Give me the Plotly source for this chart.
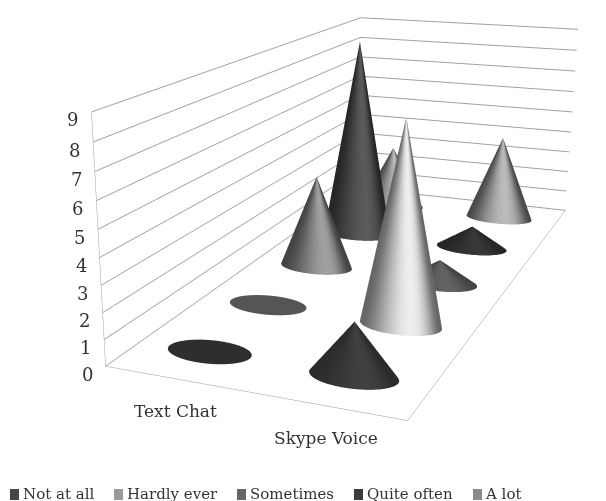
import numpy as np
import plotly.graph_objects as go

CATEGORIES = ["Text Chat", "Skype Voice"]
SERIES = ["Not at all", "Hardly ever", "Sometimes", "Quite often", "A lot"]
NOT_AT_ALL = [0, 2]
HARDLY_EVER = [0, 8]
SOMETIMES = [4, 1]
QUITE_OFTEN = [9, 1]
A_LOT = [3, 4]
VALUES = [NOT_AT_ALL, HARDLY_EVER, SOMETIMES, QUITE_OFTEN, A_LOT]
Z_TICKS = list(range(10))
LEGEND_COLORS = ["#454545", "#9a9a9a", "#666666", "#3c3c3c", "#8a8a8a"]
EDGE = ["#2b2b2b", "#666666", "#444444", "#262626", "#4a4a4a"]
HIGH = ["#4a4a4a", "#eeeeee", "#a0a0a0", "#5a5a5a", "#bbbbbb"]
FLAT = ["#2e2e2e", "#555555", "#555555", "#2e2e2e", "#777777"]
SWATCH_X = [10, 114, 237, 354, 473]
TEXT_X = [21, 125, 248, 365, 483]

# The original has a narrow field of view. Plotly's is fixed by the scene height, so the
# figure is twice the window height and the page shows its middle part.
W, H, SHIFT = 606, 1002, 250
EYE = dict(x=1.569, y=-4.570, z=1.247)
CENTER = dict(x=-0.006, y=-0.793, z=-0.103)
ASPECT = dict(x=1.098, y=2.541, z=0.895)
RX, RY = 0.29, 0.2

fig = go.Figure()
th = np.linspace(0, 2*np.pi, 181)
sx, sy = ASPECT["x"]/2, ASPECT["y"]/5
for j, vals in enumerate(VALUES):
    for i, v in enumerate(vals):
        t = np.linspace(0, 1, 3)[:, None]
        x = i+0.5 + RX*(1-t)*np.cos(th)
        y = j+0.5 + RY*(1-t)*np.sin(th)
        z = v*t*np.ones_like(th)
        cx, cy = (i+0.5-1)*sx, (j+0.5-2.5)*sy
        vx, vy = EYE["x"]-cx, EYE["y"]-cy
        n = np.hypot(vx, vy); vx, vy = vx/n, vy/n
        a, b = RX*sx, RY*sy
        nx, ny = np.cos(th)/a, np.sin(th)/b
        m = np.hypot(nx, ny); nx, ny = nx/m, ny/m
        s_ = np.clip(nx*vx+ny*vy, 0, 1)**6*min(1, v/3)*np.ones_like(x)
        cs = [[0, FLAT[j]], [1, FLAT[j]]] if v == 0 else [[0, EDGE[j]], [1, HIGH[j]]]
        fig.add_trace(go.Surface(x=x, y=y, z=z, surfacecolor=s_, cmin=0, cmax=1, colorscale=cs,
                                 showscale=False, hoverinfo="skip", showlegend=False,
                                 lighting=dict(ambient=1, diffuse=0, specular=0, fresnel=0, roughness=1)))
def py(v): return 1-(v+SHIFT)/H
shapes = [dict(type="rect", xref="paper", yref="paper", x0=sxp/W, x1=(sxp+9)/W, y0=py(500), y1=py(489),
               fillcolor=col, line=dict(width=0)) for sxp, col in zip(SWATCH_X, LEGEND_COLORS)]
annots = [dict(text=name, x=tx/W, y=py(494), xref="paper", yref="paper", xanchor="left", yanchor="middle",
               showarrow=False, font=dict(size=15)) for name, tx in zip(SERIES, TEXT_X)]
scene_ann = [dict(x=0, y=0, z=k, text=str(k), showarrow=False, xanchor="right", xshift=-11, yshift=-8, font=dict(size=18)) for k in Z_TICKS]
scene_ann += [dict(x=i+0.5, y=0, z=0, text=name, showarrow=False, yshift=-32, font=dict(size=17)) for i, name in enumerate(CATEGORIES)]
common = dict(showbackground=False, showspikes=False, title=dict(text=""), ticks="", showticklabels=False, zeroline=False)
fig.update_layout(
    width=W, height=H, margin=dict(l=0, r=0, t=0, b=0), paper_bgcolor="white", showlegend=False,
    font=dict(family="DejaVu Serif", color="#333333", size=15),
    shapes=shapes, annotations=annots,
    scene=dict(
        domain=dict(x=[0, 1], y=[0, 1]),
        aspectmode="manual", aspectratio=ASPECT,
        camera=dict(eye=EYE, center=CENTER, up=dict(x=0, y=0, z=1), projection=dict(type="perspective")),
        annotations=scene_ann,
        xaxis=dict(range=[0, 2], showgrid=False, showline=True, linecolor="#999999", **common),
        yaxis=dict(range=[0, 5], showgrid=False, showline=True, linecolor="#999999", **common),
        zaxis=dict(range=[0, 9], tickvals=Z_TICKS, showgrid=True, gridcolor="#a0a0a0", showline=True, linecolor="#999999", **common),
    ),
)
post = ("document.documentElement.style.overflow='hidden';document.body.style.overflow='hidden';"
        "document.body.style.margin='0';document.getElementById('{plot_id}').style.marginTop='-%dpx';" % SHIFT)
fig.write_html("out.html", post_script=post, config=dict(displayModeBar=False))
